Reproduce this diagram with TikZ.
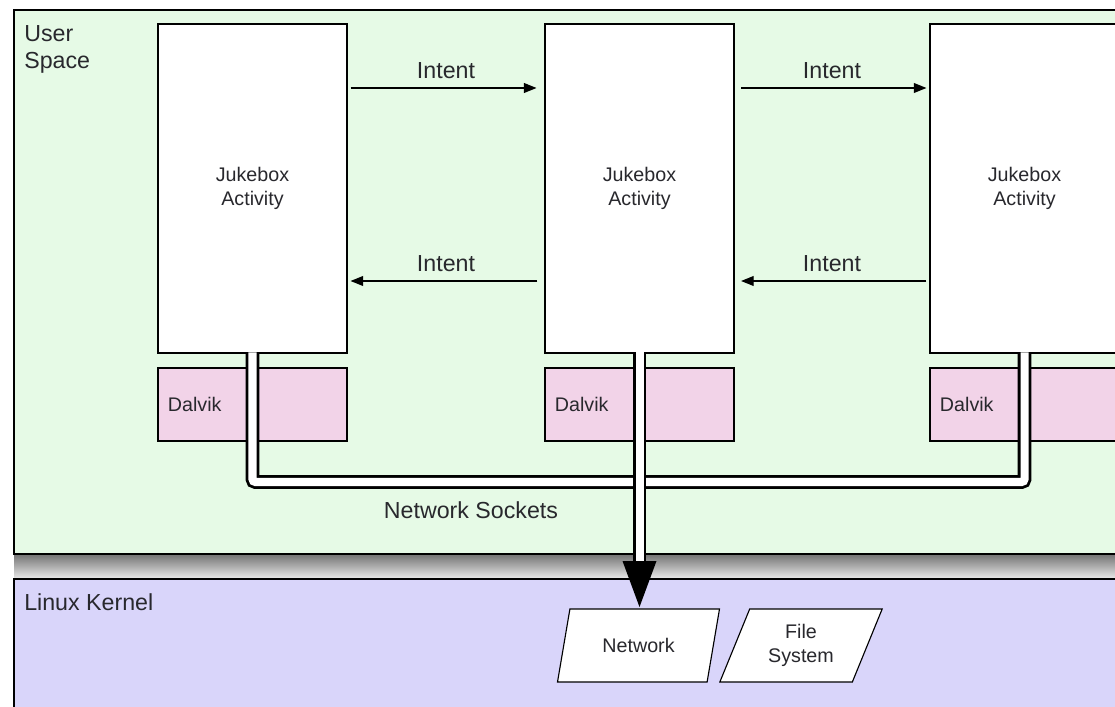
\documentclass[tikz,border=0pt]{standalone}
\usepackage{fontspec}
\setmainfont{Liberation Sans}
\usetikzlibrary{calc,arrows.meta,shapes.geometric}

\definecolor{usergreen}{RGB}{230,250,230}
\definecolor{kernelblue}{RGB}{217,213,250}
\definecolor{dalvikpink}{RGB}{242,211,232}
\definecolor{inkgray}{RGB}{40,40,45}

\tikzset{
	big/.style={font=\fontsize{16.5}{19.5}\selectfont, text=inkgray},
	small/.style={font=\fontsize{14}{17}\selectfont, text=inkgray},
	activity/.style={small, draw=black, line width=1pt, fill=white, minimum width=4.725cm, minimum height=8.225cm, align=center, inner sep=0pt},
	vm/.style={small, draw=black, line width=1pt, fill=dalvikpink, text width=4.725cm-14.2pt, inner xsep=7.1pt, minimum height=1.825cm, align=left},
	intent/.style={line width=1pt, -{Triangle[length=9pt,width=7pt]}},
	pipe/.style={line width=2pt, double=white, double distance=5.7pt, rounded corners=2pt},
	device/.style={small, trapezium, trapezium left angle=65.7, trapezium right angle=114.3, trapezium stretches=true, draw=black, line width=0.8pt, fill=white, minimum width=4.075cm, minimum height=1.825cm, align=center, inner sep=0pt}
}

\begin{document}
\begin{tikzpicture}[x=0.025cm, y=-0.025cm]
	\useasboundingbox (0,0) rectangle (1115,707);

%define coordinates
			\coordinate (upper) at (0,88);
			\coordinate (lower) at (0,281);
			\coordinate (bus) at (0,482);
			\coordinate (headbase) at (639.5,561);

%draw layers
			\shade[top color=black!55, bottom color=black!8] (14,554) rectangle (1125,579);
			\draw[line width=1.2pt, fill=usergreen] (14,10) rectangle (1125,554);
			\draw[line width=1.2pt, fill=kernelblue] (14,579) rectangle (1125,720);
			\node[big, anchor=north west, align=left, inner sep=0pt] (userlbl) at (24,25) {User\\Space};
			\node[big, anchor=north west, inner sep=0pt] (kernellbl) at (24,593) {Linux Kernel};

%draw activities
			\node[activity] (act1) at (252.5,188.5) {Jukebox\\Activity};
			\node[activity] (act2) at (639.5,188.5) {Jukebox\\Activity};
			\node[activity] (act3) at (1024.5,188.5) {Jukebox\\Activity};

%draw dalvik boxes
			\node[vm] (vm1) at (252.5,404.5) {Dalvik};
			\node[vm] (vm2) at (639.5,404.5) {Dalvik};
			\node[vm] (vm3) at (1024.5,404.5) {Dalvik};

%draw intents
			\draw[intent, shorten <=2pt, shorten >=5.5pt] (act1.east |- upper) -- node[big, above=3pt] (int1) {Intent} (act2.west |- upper);
			\draw[intent, shorten <=5pt, shorten >=2pt] (act2.west |- lower) -- node[big, above=3pt] (int2) {Intent} (act1.east |- lower);
			\draw[intent, shorten <=4.5pt, shorten >=2pt] (act2.east |- upper) -- node[big, above=3pt] (int3) {Intent} (act3.west |- upper);
			\draw[intent, shorten <=2pt, shorten >=4.5pt] (act3.west |- lower) -- node[big, above=3pt] (int4) {Intent} (act2.east |- lower);

%draw sockets
			\draw[pipe] ([yshift=1pt]act1.south) -- (act1.south |- bus) -- (act3.south |- bus) -- ([yshift=1pt]act3.south);
			\draw[pipe, rounded corners=0pt] ([yshift=1pt]act2.south) -- (act2.south |- headbase);
			\fill[black] ($(headbase)+(-17,0)$) -- ($(headbase)+(17,0)$) -- ($(headbase)+(0,46)$) -- cycle;
			\node[big] (socklbl) at (471,510) {Network Sockets};

%draw kernel parts
			\node[device] (netw) at (638.5,645.5) {Network};
			\node[device] (files) at (801,645.5) {File\\System};

\end{tikzpicture}
\end{document}
